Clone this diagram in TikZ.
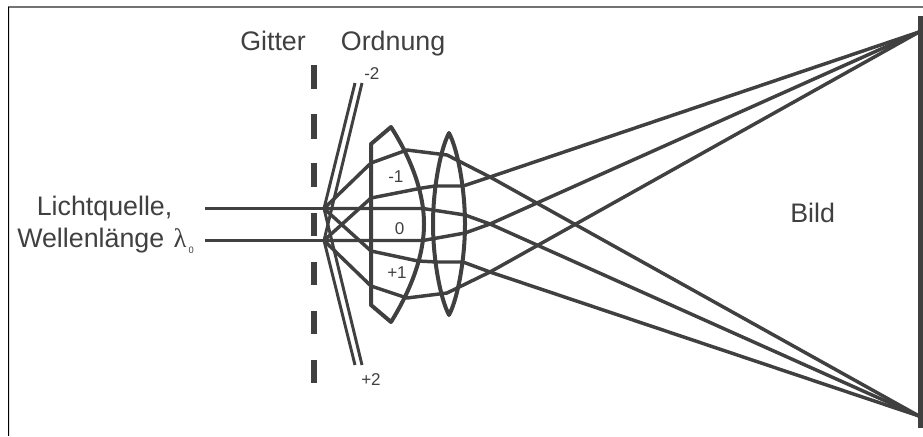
\documentclass[tikz,border=0pt]{standalone}
\usepackage{fontspec}
\setmainfont{Liberation Sans}
\newfontfamily\lamfont{Liberation Serif}
\definecolor{ink}{HTML}{404040}
\tikzset{
  big/.style={anchor=base west,inner sep=0pt,text=ink,font=\fontsize{20.1pt}{23pt}\selectfont},
  small/.style={anchor=base west,inner sep=0pt,text=ink,font=\fontsize{12.8pt}{14pt}\selectfont},
  ray/.style={draw=ink,line width=2.6pt,line join=round},
  thinray/.style={draw=ink,line width=2.2pt,line join=round},
  lens/.style={draw=ink,line width=3pt,line join=round},
  gridbar/.style={draw=ink,line width=3.8pt}
}
\begin{document}
\begin{tikzpicture}[x=0.75pt,y=-0.75pt]
\useasboundingbox (0,0) rectangle (923,436);
% frame
\draw[color=black!55,line width=1.5pt] (8,6.5) -- (923,6.5);
\draw[black,line width=0.8pt] (8.5,6.5) -- (8.5,436);
\draw[black!12,line width=0.8pt] (9.6,8) -- (9.6,436);
% named points
\coordinate (fa) at (324,208.5);
\coordinate (fb) at (324,240.5);
\coordinate (ta) at (919,32);
\coordinate (tb) at (919,416);
\coordinate (pm) at (490,177);
\coordinate (pz) at (490,224);
\coordinate (pp) at (490,272);
% screen
\draw[draw=ink,line width=4pt] (921,16) -- (921,428);
% grating
\foreach \a/\b in {65/89,114/139,163/187,213/236,262/285,311/334,360/383}
  \draw[gridbar] (314,\a) -- (314,\b);
% lenses
\draw[lens] (371,144) -- (371,305) -- (391,322)
  .. controls (409,293) and (424,258) .. (424,224)
  .. controls (424,190) and (409,155) .. (391,127) -- cycle;
\draw[lens] (449,133) .. controls (440,150) and (433,190) .. (433,224)
  .. controls (433,258) and (440,298) .. (449,315)
  .. controls (458,298) and (465,258) .. (465,224)
  .. controls (465,190) and (458,150) .. (449,133) -- cycle;
% source
\coordinate (sa) at (205,208.5);
\coordinate (sb) at (205,240.5);
\draw[ray] (sa) -- (fa);
\draw[ray] (sb) -- (fb);
% order +-2
\draw[thinray] (fa) -- (355,83);
\draw[thinray] (fb) -- (362,83);
\draw[thinray] (fb) -- (355,365);
\draw[thinray] (fa) -- (362,365);
% order -1
\draw[ray] (fa) -- (371,163) -- (407,150) -- (447,155) -- (pm) -- (tb);
\draw[ray] (fb) -- (371,198) -- (422,188) -- (435,186) -- (463,186) -- (pm) -- (ta);
% order 0
\draw[ray] (fa) -- (423,208.5) -- (465,215) -- (pz) -- (tb);
\draw[ray] (fb) -- (423,240.5) -- (465,233) -- (pz) -- (ta);
% order +1
\draw[ray] (fa) -- (371,251) -- (418,261) -- (437,262) -- (463,262) -- (pp) -- (tb);
\draw[ray] (fb) -- (371,286) -- (407,298) -- (447,293) -- (pp) -- (ta);
% text
\node[big] (gitter) at (240,50) {Gitter};
\node[big] (ordnung) at (340.7,50) {Ordnung};
\node[big] (licht) at (36.5,215) {Lichtquelle,};
\node[big] (welle) at (17,247) {Wellenlänge\hspace{1.5pt} {\lamfont λ}\hspace{1.5pt}\raisebox{-4.5pt}{\fontsize{7pt}{8pt}\selectfont 0}};
\node[big] (bild) at (790,222) {Bild};
\node[small] (om2) at (364,79) {-2};
\node[small] (om1) at (388,182) {-1};
\node[small] (oz) at (394.5,234) {0};
\node[small] (op1) at (387,278) {+1};
\node[small] (op2) at (361,385) {+2};
\end{tikzpicture}
\end{document}
